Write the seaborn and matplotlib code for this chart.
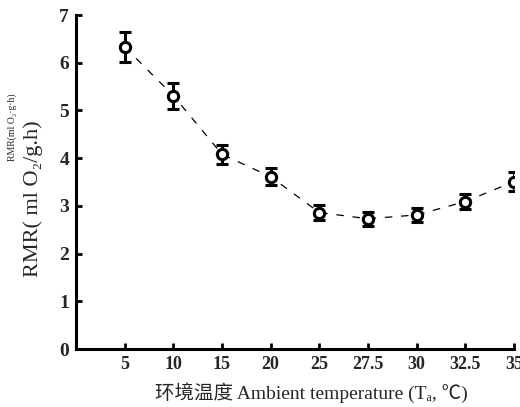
import matplotlib
matplotlib.use("Agg")
import matplotlib.pyplot as plt
import seaborn as sns
import numpy as np
import pandas as pd

temps = ["5", "10", "15", "20", "25", "27.5", "30", "32.5", "35"]
rmr_mean = [6.33, 5.31, 4.08, 3.61, 2.86, 2.73, 2.81, 3.09, 3.51]
rmr_se = [0.32, 0.27, 0.20, 0.18, 0.15, 0.15, 0.15, 0.16, 0.19]
y_ticks = [0, 1, 2, 3, 4, 5, 6, 7]

sns.set_theme(style="ticks")
fam = ['Liberation Serif', 'Noto Sans CJK SC', 'DejaVu Sans']
plt.rcParams['font.family'] = fam

df = pd.DataFrame({"pos": np.arange(1, len(temps) + 1), "rmr": rmr_mean, "se": rmr_se})

fig = plt.figure(figsize=(5.2, 4.07), dpi=100)
ax = fig.add_axes([76/520, 1 - 349/407, 438/520, 334/407])

sns.lineplot(data=df, x="pos", y="rmr", ax=ax, color="black", linewidth=0.9,
             linestyle=(0, (6, 7)), zorder=1)
ax.errorbar(df["pos"], df["rmr"], yerr=df["se"], fmt="none", ecolor="black",
            elinewidth=2.2, capsize=4.5, capthick=2.2, zorder=2)
sns.scatterplot(data=df, x="pos", y="rmr", ax=ax, s=55, marker="o",
                facecolor="white", edgecolor="black", linewidth=2.2, zorder=3)

ax.set_xlim(0, 9)
ax.set_ylim(0, 7)
ax.set_xticks(df["pos"])
ax.set_xticklabels(temps, fontsize=13, fontweight="bold")
ax.set_yticks(y_ticks)
ax.set_yticklabels([str(t) for t in y_ticks], fontsize=14, fontweight="bold")
ax.tick_params(direction="in", length=4, width=2, pad=5, color="black")
for s in ["left", "bottom"]:
    ax.spines[s].set_linewidth(2.2)
    ax.spines[s].set_color("black")
sns.despine(ax=ax)

ax.set_xlabel("环境温度 Ambient temperature (Tₐ, ℃)", fontsize=14)
ax.xaxis.set_label_coords((311 - 76) / 438, (349 - 382) / 334)
ax.set_ylabel("RMR( ml O₂/g.h)", fontsize=16)
ax.yaxis.set_label_coords((43 - 76) / 438, (349 - 199) / 334)
fig.text(12 / 520, 1 - 127 / 407, "RMR(ml O₂·g·h)", rotation=90, fontsize=7,
         ha="center", va="center")

fig.savefig("out.png", dpi=100)
